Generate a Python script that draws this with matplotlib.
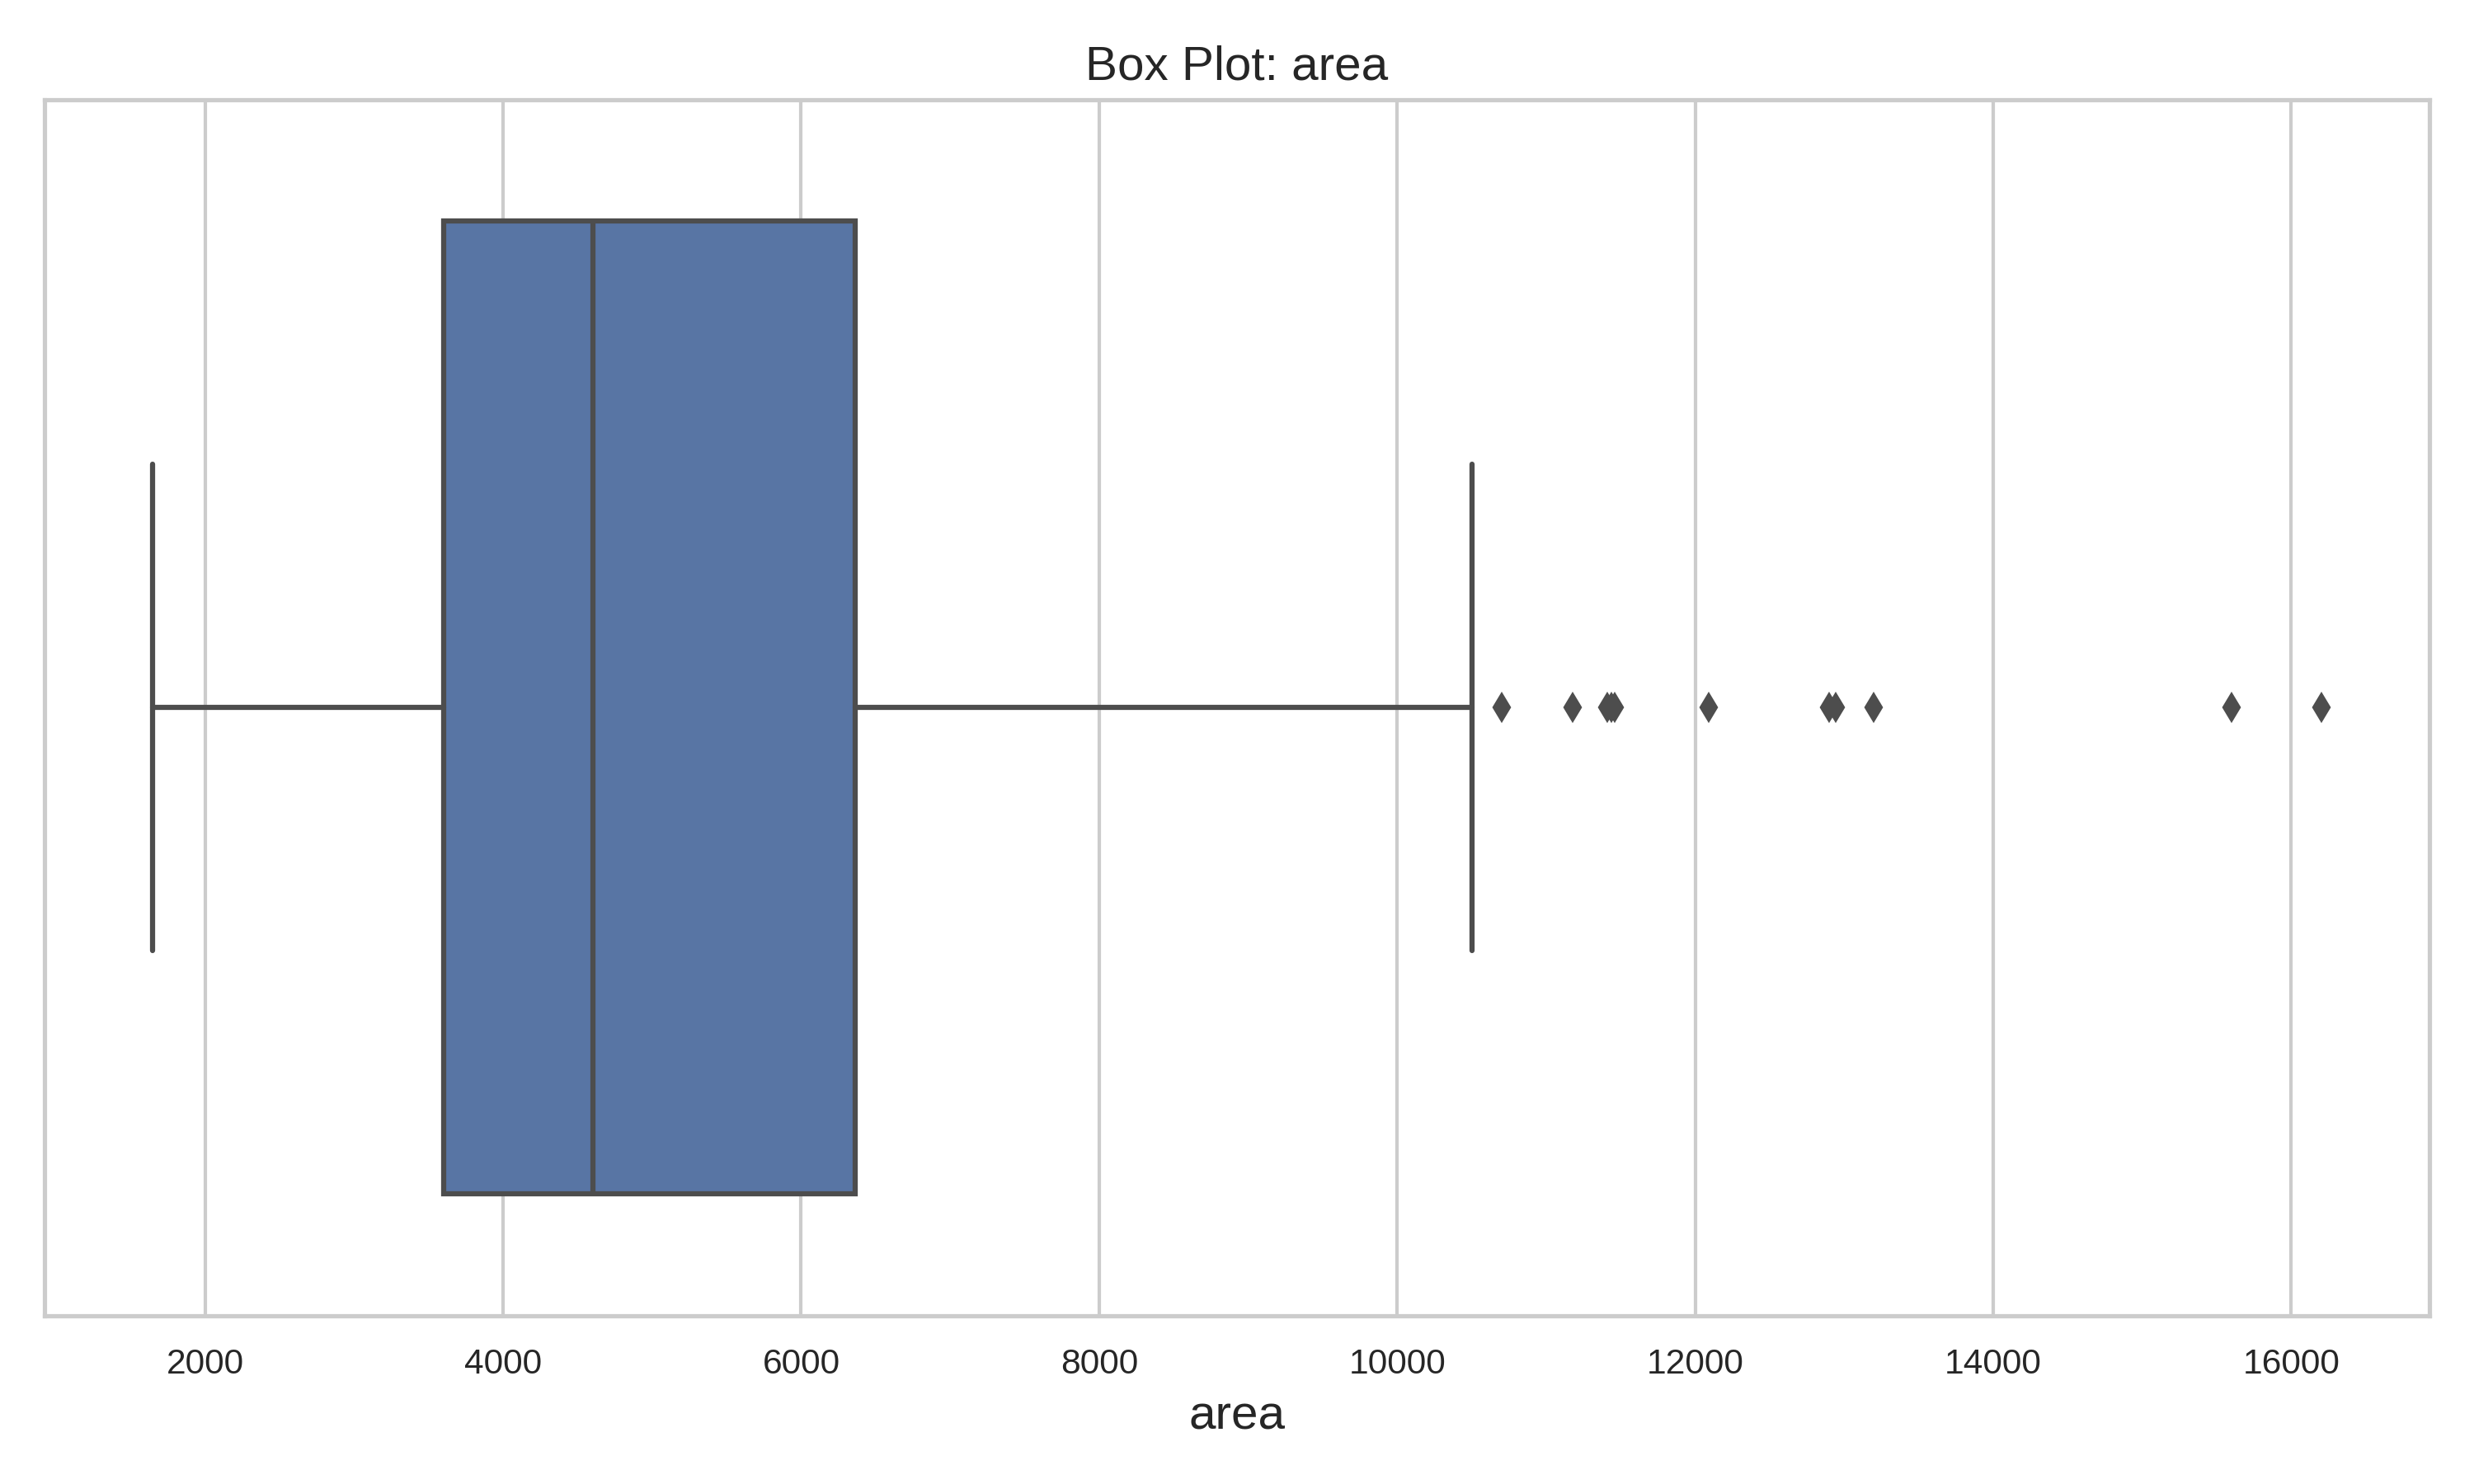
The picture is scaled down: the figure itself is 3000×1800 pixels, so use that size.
import matplotlib
matplotlib.use("Agg")
import matplotlib.pyplot as plt
import seaborn as sns

# Box statistics for "area"
label = "area"
whislo = 1650
q1 = 3600
median = 4600
q3 = 6360
whishi = 10500
fliers = [10700, 11175, 11410, 11440, 11460, 12090, 12900, 12944, 13200, 15600, 16200]

sns.set_theme(style="whitegrid")
plt.rcParams['font.family'] = ['Liberation Sans', 'DejaVu Sans']

fig, ax = plt.subplots(figsize=(10, 6), dpi=300)

stats = [dict(label=label, whislo=whislo, q1=q1, med=median, q3=q3,
              whishi=whishi, fliers=fliers)]
line_color = "#4d4d4d"
lw = 1.5
ax.bxp(stats, positions=[0], widths=0.8, vert=False, patch_artist=True,
       capwidths=0.4,
       boxprops=dict(facecolor="#5875a4", edgecolor=line_color, linewidth=lw),
       medianprops=dict(color=line_color, linewidth=lw),
       whiskerprops=dict(color=line_color, linewidth=lw),
       capprops=dict(color=line_color, linewidth=lw),
       flierprops=dict(marker="d", markerfacecolor=line_color, markeredgecolor=line_color,
                       markersize=5, linestyle="none"))

ax.set_ylim(0.5, -0.5)
ax.set_yticks([])
ax.set_xlim(whislo - 0.05 * (max(fliers) - whislo), max(fliers) + 0.05 * (max(fliers) - whislo))
ax.set_xlabel("area", fontsize=14)
ax.set_title("Box Plot: area", fontsize=14)
ax.tick_params(axis="x", labelsize=10.2)
ax.grid(axis="y", visible=False)

fig.tight_layout()
fig.savefig("out.png", dpi=300)
